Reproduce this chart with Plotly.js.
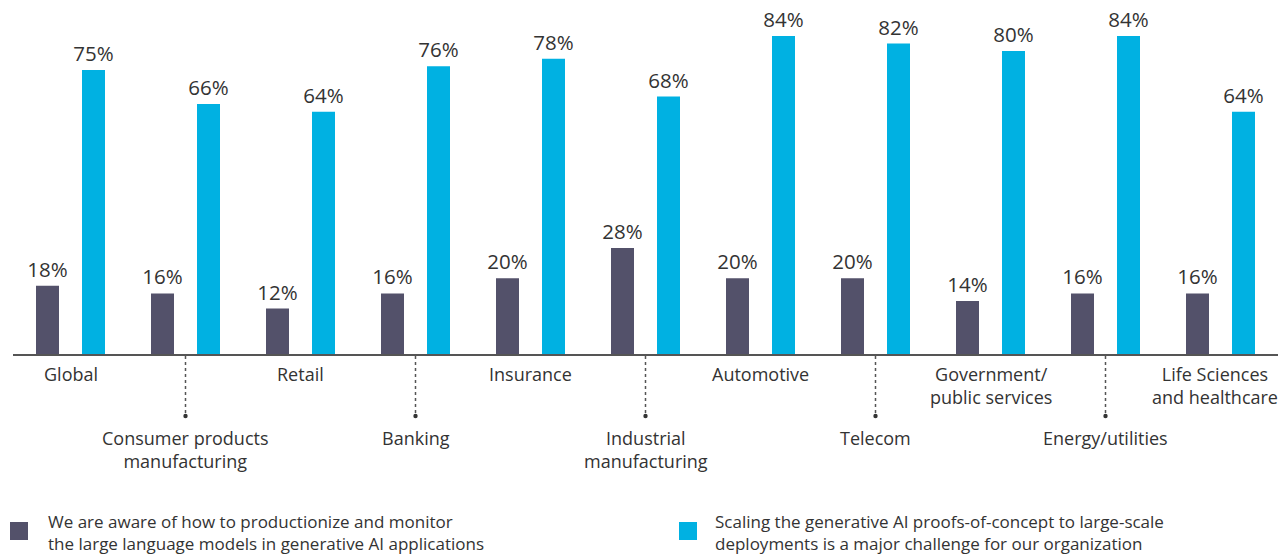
<!DOCTYPE html>
<html>
<head>
<meta charset="utf-8">
<script src="https://cdn.plot.ly/plotly-3.0.1.min.js"></script>
<style>
html,body{margin:0;padding:0;background:#fff;}
#chart{width:1283px;height:558px;}
</style>
</head>
<body>
<div id="chart"></div>
<script>
// ---- data ----
const categories = ['Global','Consumer products manufacturing','Retail','Banking','Insurance','Industrial manufacturing','Automotive','Telecom','Government/public services','Energy/utilities','Life Sciences and healthcare'];
const categoryLabels = ['Global','Consumer products<br>manufacturing','Retail','Banking','Insurance','Industrial<br>manufacturing','Automotive','Telecom','Government/<br>public services','Energy/utilities','Life Sciences<br>and healthcare'];
const awareValues = [18,16,12,16,20,28,20,20,14,16,16];
const scalingValues = [75,66,64,76,78,68,84,82,80,84,64];
const seriesNames = [
  'We are aware of how to productionize and monitor<br>the large language models in generative AI applications',
  'Scaling the generative AI proofs-of-concept to large-scale<br>deployments is a major challenge for our organization'
];

// ---- style ----
const DARK = '#53516a';
const BLUE = '#00b1e2';
const TEXT = '#333333';
const FONT = 'Open Sans, Noto Sans, sans-serif';
const W = 1283, H = 558;
const mL = 13, mR = 5, mT = 10, mB = 204;
const plotH = H - mT - mB;
const plotW = W - mL - mR;
const pyToPaper = py => (H - mB - py) / plotH;
const pxToPaper = px => (px - mL) / plotW;

const pct = v => v + '%';

const traces = [
  {
    type: 'bar', x: categories, y: awareValues, name: seriesNames[0],
    marker: {color: DARK}, width: 0.2, offset: -0.3,
    text: awareValues.map(pct), textposition: 'outside', constraintext: 'none',
    textfont: {family: FONT, size: 20.5, color: TEXT}, cliponaxis: false,
    hoverinfo: 'none', showlegend: false
  },
  {
    type: 'bar', x: categories, y: scalingValues, name: seriesNames[1],
    marker: {color: BLUE}, width: 0.2, offset: 0.1,
    text: scalingValues.map(pct), textposition: 'outside', constraintext: 'none',
    textfont: {family: FONT, size: 20.5, color: TEXT}, cliponaxis: false,
    hoverinfo: 'none', showlegend: false
  }
];

const annotations = [];
const shapes = [];
categories.forEach((c, i) => {
  const low = i % 2 === 1;
  const last = i === categories.length - 1;
  annotations.push({
    xref: 'x', yref: 'paper', x: i, y: 0, yanchor: 'top', xanchor: 'center',
    yshift: low ? -70 : -6, xshift: last ? -6 : 0, showarrow: false, align: 'center',
    text: categoryLabels[i], font: {family: FONT, size: 18, color: TEXT}
  });
  if (low) {
    shapes.push({type: 'line', xref: 'x', yref: 'paper', x0: i, x1: i,
      y0: pyToPaper(356), y1: pyToPaper(416),
      line: {color: '#555', width: 1.5, dash: 'dot'}});
    shapes.push({type: 'circle', xref: 'x', yref: 'paper',
      xsizemode: 'pixel', ysizemode: 'pixel', xanchor: i, yanchor: pyToPaper(416),
      x0: -2.2, x1: 2.2, y0: -2.2, y1: 2.2,
      fillcolor: '#333', line: {width: 0}});
  }
});

// legend (manual)
const legendItems = [
  {color: DARK, mx: 10, tx: 46},
  {color: BLUE, mx: 679, tx: 713}
];
legendItems.forEach((it, k) => {
  shapes.push({type: 'rect', xref: 'paper', yref: 'paper',
    x0: pxToPaper(it.mx), x1: pxToPaper(it.mx + 18),
    y0: pyToPaper(522), y1: pyToPaper(540),
    fillcolor: it.color, line: {width: 0}});
  annotations.push({xref: 'paper', yref: 'paper', x: pxToPaper(it.tx), y: pyToPaper(557),
    xanchor: 'left', yanchor: 'bottom', align: 'left', showarrow: false,
    text: seriesNames[k], font: {family: FONT, size: 17, color: TEXT}});
});

const layout = {
  width: W, height: H,
  margin: {l: mL, r: mR, t: mT, b: mB, pad: 0},
  paper_bgcolor: '#fff', plot_bgcolor: '#fff',
  barmode: 'group',
  xaxis: {type: 'category', range: [-0.5, 10.5], showticklabels: false, ticks: '',
    showgrid: false, zeroline: false, showline: true, linecolor: '#555', linewidth: 2},
  yaxis: {range: [0, plotH / 3.786], visible: false, showgrid: false, zeroline: false},
  annotations: annotations,
  shapes: shapes,
  showlegend: false
};

Plotly.newPlot('chart', traces, layout, {displayModeBar: false, staticPlot: true});
</script>
</body>
</html>
